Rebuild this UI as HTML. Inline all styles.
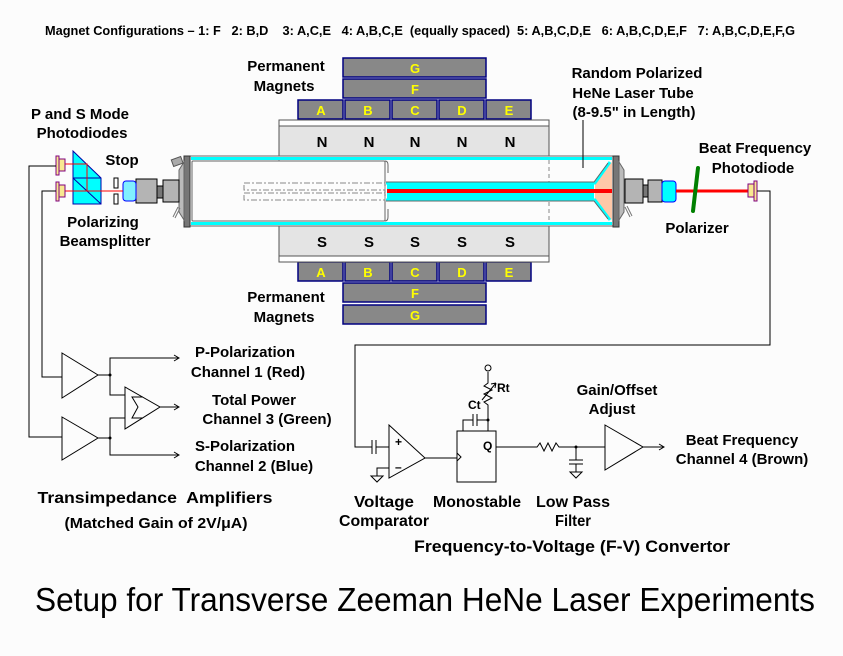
<!DOCTYPE html>
<html><head><meta charset="utf-8"><style>
html,body{margin:0;padding:0;background:#fcfcfc}
svg{display:block}
text{font-family:"Liberation Sans",Arial,sans-serif;font-weight:bold;fill:#000;white-space:pre}
</style></head><body>
<svg width="843" height="656" viewBox="0 0 843 656" xmlns="http://www.w3.org/2000/svg" xml:space="preserve">
<rect width="843" height="656" fill="#fcfcfc"/>
<text x="45" y="35" font-size="13" textLength="750" lengthAdjust="spacingAndGlyphs">Magnet Configurations – 1: F   2: B,D    3: A,C,E   4: A,B,C,E  (equally spaced)  5: A,B,C,D,E   6: A,B,C,D,E,F   7: A,B,C,D,E,F,G</text>

<g fill="#888" stroke="#000080" stroke-width="1.5">
<rect x="343" y="58" width="143" height="19"/><rect x="343" y="79" width="143" height="19"/>
<rect x="298" y="100" width="45" height="19"/><rect x="345" y="100" width="45" height="19"/><rect x="392" y="100" width="45" height="19"/><rect x="439" y="100" width="45" height="19"/><rect x="486" y="100" width="45" height="19"/>
<rect x="298" y="262" width="45" height="19"/><rect x="345" y="262" width="45" height="19"/><rect x="392" y="262" width="45" height="19"/><rect x="439" y="262" width="45" height="19"/><rect x="486" y="262" width="45" height="19"/>
<rect x="343" y="283" width="143" height="19"/><rect x="343" y="305" width="143" height="19"/>
</g>
<g font-size="13" text-anchor="middle">
<text x="415" y="73" style="fill:#ff0">G</text><text x="415" y="94" style="fill:#ff0">F</text>
<text x="321" y="115" style="fill:#ff0">A</text><text x="368" y="115" style="fill:#ff0">B</text><text x="415" y="115" style="fill:#ff0">C</text><text x="462" y="115" style="fill:#ff0">D</text><text x="509" y="115" style="fill:#ff0">E</text>
<text x="321" y="277" style="fill:#ff0">A</text><text x="368" y="277" style="fill:#ff0">B</text><text x="415" y="277" style="fill:#ff0">C</text><text x="462" y="277" style="fill:#ff0">D</text><text x="509" y="277" style="fill:#ff0">E</text>
<text x="415" y="298" style="fill:#ff0">F</text><text x="415" y="320" style="fill:#ff0">G</text>
</g>
<rect x="279" y="120" width="270" height="6" fill="#fff" stroke="#555"/>
<rect x="279" y="126" width="270" height="31" fill="#e4e4e4" stroke="#555"/>
<rect x="279" y="226" width="270" height="30" fill="#e4e4e4" stroke="#555"/>
<rect x="279" y="256" width="270" height="6" fill="#fff" stroke="#555"/>
<g font-size="15" text-anchor="middle">
<text x="322" y="147">N</text><text x="369" y="147">N</text><text x="415" y="147">N</text><text x="462" y="147">N</text><text x="510" y="147">N</text>
<text x="322" y="247">S</text><text x="369" y="247">S</text><text x="415" y="247">S</text><text x="462" y="247">S</text><text x="510" y="247">S</text>
</g>

<rect x="190" y="156" width="423" height="70" fill="#fcfcfc" stroke="#666"/>
<rect x="191" y="157" width="421" height="3" fill="#00ffff"/>
<rect x="191" y="222" width="421" height="3" fill="#00ffff"/>
<line x1="279" y1="160" x2="279" y2="222" stroke="#888" stroke-dasharray="4,3"/>
<line x1="549" y1="160" x2="549" y2="222" stroke="#888" stroke-dasharray="4,3"/>
<rect x="192" y="161" width="193" height="60" fill="#fcfcfc" stroke="#666" rx="1"/>
<path d="M385 161 q3 0 3 4 v8 M385 221 q3 0 3 -4 v-8" fill="none" stroke="#666"/>
<g fill="none" stroke="#888" stroke-dasharray="6,2,2,2">
<rect x="244" y="183" width="141" height="7"/><rect x="244" y="193" width="141" height="7"/>
</g>
<path d="M595 183 L612 162 L612 220 L595 200 Z" fill="#ffc8a8"/>
<path d="M386 183 H595 L610 162 M386 200 H595 L610 220" fill="none" stroke="#00ffff" stroke-width="3"/>
<rect x="387" y="184" width="207" height="15" fill="#00ffff"/>
<path d="M386 182 H594 L608 163 M386 201 H594 L608 219" fill="none" stroke="#666" stroke-width="1"/>
<rect x="387" y="189" width="225" height="4" fill="#ff0000"/>
<line x1="583" y1="120" x2="583" y2="168" stroke="#000"/>
<rect x="184" y="156" width="6" height="71" fill="#777" stroke="#333"/>
<rect x="613" y="156" width="6" height="71" fill="#777" stroke="#333"/>
<path d="M184 162 L179 170 L179 212 L184 220Z M619 162 L624 170 L624 212 L619 220Z" fill="#bbb" stroke="#666"/>
<rect x="172" y="158" width="10" height="7" fill="#aaa" stroke="#555" transform="rotate(-20 177 161)"/>
<path d="M178 207 L173 217 M180 208 L175 218 M625 207 L630 217 M627 206 L632 216" stroke="#777"/>
<rect x="136" y="179" width="21" height="24" fill="#b4b4b4" stroke="#000"/>
<rect x="157" y="186" width="6" height="12" fill="#777" stroke="#000"/>
<rect x="163" y="180" width="16" height="22" fill="#b4b4b4" stroke="#000"/>
<rect x="123" y="181" width="13" height="20" rx="3" fill="#80f0ff" stroke="#0000ff"/>
<rect x="114" y="178" width="4" height="10" fill="#fff" stroke="#000"/>
<rect x="114" y="194" width="4" height="10" fill="#fff" stroke="#000"/>
<path d="M73 151 L101 178 L101 204 L73 204 Z" fill="#00ffff" stroke="#0000aa"/>
<line x1="73" y1="178" x2="101" y2="178" stroke="#0000aa"/>
<line x1="73" y1="178" x2="101" y2="204" stroke="#0000aa"/>
<path d="M64 164 H87 V191 M64 191 H123" fill="none" stroke="#ff0000"/>
<g fill="#f8e890" stroke="#800080">
<rect x="59" y="159" width="6" height="12"/><rect x="56" y="156" width="3" height="19"/>
<rect x="59" y="185" width="6" height="12"/><rect x="56" y="182" width="3" height="19"/>
</g>
<rect x="625" y="179" width="18" height="24" fill="#b4b4b4" stroke="#000"/>
<rect x="643" y="185" width="5" height="12" fill="#777" stroke="#000"/>
<rect x="648" y="180" width="14" height="22" fill="#b4b4b4" stroke="#000"/>
<rect x="662" y="181" width="14" height="21" rx="3" fill="#00ffff" stroke="#0000ff"/>
<line x1="676" y1="191" x2="748" y2="191" stroke="#ff0000" stroke-width="3"/>
<line x1="698" y1="168" x2="693" y2="211" stroke="#008000" stroke-width="4" stroke-linecap="round"/>
<rect x="748" y="184" width="6" height="13" fill="#f8e890" stroke="#800080"/>
<rect x="754" y="181" width="3" height="20" fill="#f8e890" stroke="#800080"/>

<g fill="none" stroke="#000" stroke-width="1">
<path d="M56 166 H29 V437 H62"/>
<path d="M56 191 H42 V377 H62"/>
<path d="M757 191 H770 V345 H355 V447 H372"/>
<path d="M62 353 L98 375 L62 398 Z"/>
<path d="M62 417 L98 438 L62 460 Z"/>
<path d="M98 375 H110 V358 H178 M98 438 H110 V455 H178 M110 375 V395 H125 M110 438 V418 H125"/>
<path d="M125 387 L160 407 L125 429 Z"/>
<path d="M160 407 H178"/>
<path d="M174 355 L179 358 L174 361 M174 404 L179 407 L174 410 M174 452 L179 455 L174 458"/>
<path d="M143 397 H132 L138 407 L132 418 H143"/>
<path d="M372 440 V454 M376 440 V454 M376 447 H389"/>
<path d="M389 425 L425 458 L389 478 Z"/>
<path d="M389 468 H377 V476 M371 476 H383 L377 482 Z"/>
<path d="M425 458 H457"/>
<rect x="457" y="431" width="39" height="51"/>
<path d="M457 453 L461 457 L457 461"/>
<path d="M463 431 V420 H473 M477 420 H488 V431 M473 414 V426 M477 414 V426 M488 420 V405 L484 402 L492 398 L484 394 L492 390 L484 386 L488 383 V372 M482 400 L496 383 M496 383 L491 384 M496 383 L495 388"/>
<circle cx="488" cy="368" r="3"/>
<path d="M496 447 H537 L540 443 L544 451 L548 443 L552 451 L556 443 L559 447 H605 M576 447 V460 M569 460 H583 M569 464 H583 M576 464 V472 M570 472 H582 L576 478 Z"/>
<path d="M605 425 L643 447 L605 470 Z"/>
<path d="M643 447 H664 M659 444 L664 447 L659 450"/>
</g>
<circle cx="110" cy="375" r="1.5"/><circle cx="110" cy="438" r="1.5"/><circle cx="488" cy="420" r="1.5"/><circle cx="576" cy="447" r="1.5"/>
<text x="395" y="446" font-size="12">+</text><text x="395" y="471" font-size="12">–</text>
<text x="483" y="450" font-size="12">Q</text>
<text x="497" y="392" font-size="12">Rt</text>
<text x="468" y="409" font-size="12">Ct</text>

<g font-size="15" text-anchor="middle">
<text x="286" y="71">Permanent</text><text x="284" y="91">Magnets</text>
<text x="286" y="302">Permanent</text><text x="284" y="322">Magnets</text>
<text x="637" y="78">Random Polarized</text><text x="633" y="98">HeNe Laser Tube</text><text x="634" y="117">(8-9.5" in Length)</text>
<text x="80" y="119">P and S Mode</text><text x="82" y="138">Photodiodes</text>
<text x="122" y="165">Stop</text>
<text x="103" y="227">Polarizing</text><text x="105" y="246">Beamsplitter</text>
<text x="755" y="153">Beat Frequency</text><text x="753" y="173">Photodiode</text>
<text x="697" y="233">Polarizer</text>
<text x="245" y="357">P-Polarization</text><text x="248" y="377">Channel 1 (Red)</text>
<text x="254" y="405">Total Power</text><text x="267" y="424">Channel 3 (Green)</text>
<text x="245" y="451">S-Polarization</text><text x="254" y="471">Channel 2 (Blue)</text>
<text x="617" y="395">Gain/Offset</text><text x="612" y="414">Adjust</text>
<text x="742" y="445">Beat Frequency</text><text x="742" y="464">Channel 4 (Brown)</text>
</g>
<g font-size="16" text-anchor="middle">
<text x="155" y="503" textLength="235" lengthAdjust="spacingAndGlyphs">Transimpedance  Amplifiers</text>
<text x="156" y="528" font-size="15" textLength="183" lengthAdjust="spacingAndGlyphs">(Matched Gain of 2V/μA)</text>
<text x="384" y="507" textLength="60" lengthAdjust="spacingAndGlyphs">Voltage</text>
<text x="384" y="526" textLength="90" lengthAdjust="spacingAndGlyphs">Comparator</text>
<text x="477" y="507" textLength="88" lengthAdjust="spacingAndGlyphs">Monostable</text>
<text x="573" y="507" textLength="74" lengthAdjust="spacingAndGlyphs">Low Pass</text>
<text x="573" y="526" textLength="36" lengthAdjust="spacingAndGlyphs">Filter</text>
<text x="572" y="552" font-size="17" textLength="316" lengthAdjust="spacingAndGlyphs">Frequency-to-Voltage (F-V) Convertor</text>
<text x="425" y="611" style="font-weight:normal" font-size="33" textLength="780" lengthAdjust="spacingAndGlyphs">Setup for Transverse Zeeman HeNe Laser Experiments</text>
</g>
</svg>
</body></html>
